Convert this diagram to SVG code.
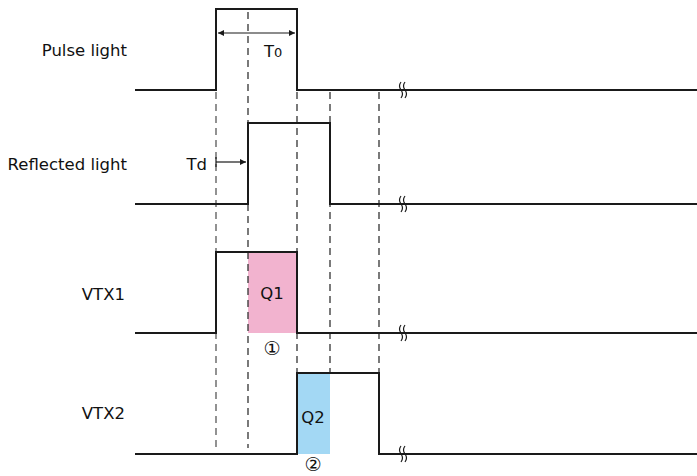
<svg xmlns="http://www.w3.org/2000/svg" width="697" height="476" viewBox="0 0 697 476">
<defs>
<marker id="ah" viewBox="0 0 10 10" refX="10" refY="5" markerWidth="9" markerHeight="6" orient="auto-start-reverse" markerUnits="userSpaceOnUse">
<path d="M0,0 L10,5 L0,10 Z" fill="#1a1a1a"/>
</marker>
</defs>
<style>
.sig{fill:none;stroke:#1a1a1a;stroke-width:2;stroke-linejoin:miter}
.dash{fill:none;stroke:#333;stroke-width:1.3;stroke-dasharray:7,5}
.dashg{fill:none;stroke:#777;stroke-width:1.6;stroke-dasharray:7,5}
.brk{fill:none;stroke:#1a1a1a;stroke-width:1.2}
.lbl{font-family:"DejaVu Sans",Verdana,sans-serif;font-size:16.5px;fill:#111}
.circ{font-family:"DejaVu Sans",sans-serif;font-size:19px;fill:#111}
.arr{stroke:#1a1a1a;stroke-width:1.2;fill:none}
</style>
<rect width="697" height="476" fill="#fff"/>
<g id="fills">
<rect x="248" y="252" width="49" height="81" fill="#f2b3cf"/>
<rect x="297" y="373" width="33" height="81" fill="#a3d8f4"/>
</g>
<g id="guides">
<line class="dashg" x1="216" y1="92" x2="216" y2="452"/>
<line class="dash" x1="248" y1="12" x2="248" y2="448"/>
<line class="dash" x1="297" y1="92" x2="297" y2="373"/>
<line class="dash" x1="330" y1="92" x2="330" y2="373"/>
<line class="dash" x1="379" y1="92" x2="379" y2="373"/>
</g>
<g id="pulse-light">
<text class="lbl" x="127" y="56" text-anchor="end">Pulse light</text>
<polyline class="sig" points="135,90 216,90 216,9 297,9 297,90 697,90"/>
<line class="arr" x1="218" y1="33" x2="295" y2="33" marker-start="url(#ah)" marker-end="url(#ah)"/>
<text class="lbl" x="264" y="57">T<tspan font-size="13">0</tspan></text>
</g>
<g id="reflected-light">
<text class="lbl" x="127" y="170" text-anchor="end">Reflected light</text>
<polyline class="sig" points="135,204 248,204 248,123 330,123 330,204 697,204"/>
<text class="lbl" x="207" y="170" text-anchor="end">Td</text>
<line class="arr" x1="216" y1="162" x2="246" y2="162" marker-end="url(#ah)"/>
<line class="arr" x1="216" y1="157" x2="216" y2="167"/>
</g>
<g id="vtx1">
<text class="lbl" x="125" y="300" text-anchor="end">VTX1</text>
<polyline class="sig" points="135,333 216,333 216,252 297,252 297,333 697,333"/>
<text class="lbl" x="272" y="299" text-anchor="middle">Q1</text>
<text class="circ" x="272" y="355" text-anchor="middle">①</text>
</g>
<g id="vtx2">
<text class="lbl" x="125" y="419" text-anchor="end">VTX2</text>
<polyline class="sig" points="135,454 297,454 297,373 379,373 379,454 697,454"/>
<text class="lbl" x="313" y="423" text-anchor="middle">Q2</text>
<text class="circ" x="313" y="471" text-anchor="middle">②</text>
</g>
<g id="breaks">
<path class="brk" d="M401,82 q-3,4 0,8 q3,4 0,8 M405,82 q-3,4 0,8 q3,4 0,8"/>
<path class="brk" d="M401,196 q-3,4 0,8 q3,4 0,8 M405,196 q-3,4 0,8 q3,4 0,8"/>
<path class="brk" d="M401,325 q-3,4 0,8 q3,4 0,8 M405,325 q-3,4 0,8 q3,4 0,8"/>
<path class="brk" d="M401,446 q-3,4 0,8 q3,4 0,8 M405,446 q-3,4 0,8 q3,4 0,8"/>
</g>
</svg>
